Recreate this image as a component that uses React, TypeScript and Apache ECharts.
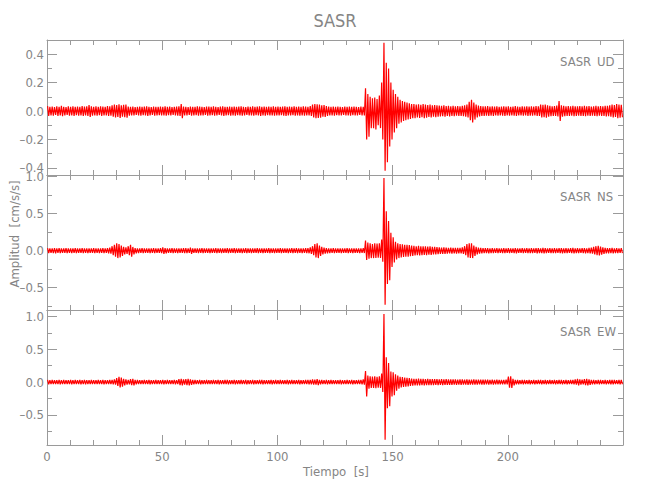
import React, { useEffect, useRef } from 'react';
import * as echarts from 'echarts';

// Envelope of each trace, one value per second (t = 0 .. 249 s).
// Upper envelope (positive peak per second):
const udUpper = [
  0.035, 0.03, 0.032, 0.028, 0.034, 0.03, 0.036, 0.03, 0.028, 0.033,
  0.03, 0.034, 0.029, 0.032, 0.03, 0.035, 0.031, 0.034, 0.042, 0.033,
  0.03, 0.033, 0.029, 0.034, 0.031, 0.03, 0.035, 0.033, 0.04, 0.045,
  0.042, 0.048, 0.04, 0.044, 0.046, 0.032, 0.03, 0.031, 0.028, 0.03,
  0.032, 0.029, 0.031, 0.034, 0.03, 0.028, 0.032, 0.03, 0.029, 0.031,
  0.03, 0.033, 0.029, 0.031, 0.028, 0.03, 0.032, 0.034, 0.05, 0.031,
  0.03, 0.028, 0.032, 0.03, 0.029, 0.033, 0.031, 0.03, 0.028, 0.032,
  0.031, 0.029, 0.033, 0.03, 0.028, 0.031, 0.034, 0.03, 0.029, 0.032,
  0.03, 0.032, 0.029, 0.031, 0.033, 0.03, 0.028, 0.031, 0.03, 0.033,
  0.029, 0.031, 0.034, 0.03, 0.032, 0.029, 0.031, 0.03, 0.033, 0.03,
  0.031, 0.029, 0.032, 0.034, 0.03, 0.031, 0.029, 0.033, 0.03, 0.032,
  0.03, 0.033, 0.031, 0.03, 0.035, 0.045, 0.05, 0.048, 0.046, 0.04,
  0.042, 0.035, 0.031, 0.03, 0.032, 0.029, 0.031, 0.03, 0.028, 0.031,
  0.03, 0.032, 0.029, 0.031, 0.03, 0.028, 0.031, 0.03, 0.16, 0.12,
  0.1, 0.09, 0.095, 0.085, 0.11, 0.2, 0.48, 0.34, 0.3, 0.2,
  0.15, 0.12, 0.1, 0.08, 0.07, 0.065, 0.06, 0.055, 0.05, 0.05,
  0.045, 0.048, 0.044, 0.05, 0.046, 0.042, 0.045, 0.04, 0.043, 0.04,
  0.038, 0.036, 0.04, 0.035, 0.037, 0.034, 0.036, 0.033, 0.035, 0.034,
  0.036, 0.04, 0.045, 0.065, 0.08, 0.06, 0.045, 0.038, 0.035, 0.034,
  0.033, 0.035, 0.032, 0.034, 0.031, 0.033, 0.03, 0.032, 0.034, 0.031,
  0.033, 0.03, 0.032, 0.035, 0.031, 0.03, 0.033, 0.031, 0.034, 0.032,
  0.033, 0.031, 0.035, 0.034, 0.045, 0.044, 0.046, 0.04, 0.036, 0.034,
  0.035, 0.038, 0.07, 0.04, 0.036, 0.034, 0.035, 0.033, 0.036, 0.034,
  0.033, 0.035, 0.034, 0.036, 0.033, 0.035, 0.032, 0.034, 0.036, 0.033,
  0.035, 0.034, 0.037, 0.036, 0.04, 0.045, 0.042, 0.05, 0.046, 0.044,
];
const nsUpper = [
  0.034, 0.03, 0.032, 0.035, 0.03, 0.033, 0.029, 0.031, 0.034, 0.03,
  0.032, 0.03, 0.034, 0.029, 0.031, 0.033, 0.03, 0.032, 0.029, 0.031,
  0.033, 0.03, 0.032, 0.031, 0.034, 0.03, 0.035, 0.04, 0.06, 0.08,
  0.1, 0.09, 0.07, 0.05, 0.045, 0.06, 0.08, 0.05, 0.035, 0.032,
  0.03, 0.033, 0.031, 0.029, 0.032, 0.03, 0.034, 0.031, 0.03, 0.033,
  0.045, 0.035, 0.031, 0.03, 0.033, 0.029, 0.032, 0.03, 0.031, 0.034,
  0.033, 0.03, 0.042, 0.031, 0.029, 0.032, 0.03, 0.033, 0.031, 0.03,
  0.032, 0.029, 0.031, 0.034, 0.03, 0.032, 0.029, 0.031, 0.033, 0.03,
  0.031, 0.033, 0.03, 0.029, 0.032, 0.031, 0.034, 0.03, 0.032, 0.029,
  0.031, 0.033, 0.03, 0.032, 0.029, 0.031, 0.034, 0.03, 0.032, 0.031,
  0.03, 0.033, 0.031, 0.029, 0.032, 0.03, 0.034, 0.031, 0.033, 0.03,
  0.032, 0.03, 0.033, 0.035, 0.045, 0.06, 0.09, 0.1, 0.07, 0.05,
  0.04, 0.035, 0.032, 0.03, 0.033, 0.031, 0.029, 0.032, 0.03, 0.031,
  0.033, 0.03, 0.032, 0.031, 0.029, 0.032, 0.03, 0.033, 0.135, 0.11,
  0.1, 0.09, 0.1, 0.095, 0.1, 0.15, 0.98, 0.53, 0.4, 0.24,
  0.18, 0.12, 0.1, 0.09, 0.085, 0.08, 0.08, 0.075, 0.07, 0.065,
  0.06, 0.065, 0.06, 0.058, 0.06, 0.055, 0.058, 0.052, 0.05, 0.048,
  0.045, 0.042, 0.044, 0.04, 0.038, 0.04, 0.037, 0.039, 0.036, 0.038,
  0.045, 0.06, 0.09, 0.1, 0.1, 0.07, 0.05, 0.04, 0.036, 0.034,
  0.033, 0.035, 0.032, 0.034, 0.031, 0.033, 0.03, 0.032, 0.034, 0.031,
  0.033, 0.03, 0.032, 0.035, 0.031, 0.03, 0.033, 0.031, 0.034, 0.032,
  0.033, 0.031, 0.035, 0.034, 0.032, 0.036, 0.033, 0.031, 0.034, 0.032,
  0.034, 0.031, 0.033, 0.035, 0.032, 0.034, 0.031, 0.033, 0.036, 0.032,
  0.034, 0.031, 0.033, 0.035, 0.032, 0.036, 0.04, 0.05, 0.06, 0.065,
  0.055, 0.045, 0.038, 0.035, 0.033, 0.036, 0.032, 0.034, 0.031, 0.033,
];
const ewUpper = [
  0.034, 0.03, 0.032, 0.029, 0.031, 0.033, 0.03, 0.032, 0.029, 0.031,
  0.033, 0.03, 0.032, 0.031, 0.034, 0.03, 0.033, 0.031, 0.03, 0.032,
  0.031, 0.029, 0.032, 0.03, 0.033, 0.031, 0.03, 0.032, 0.034, 0.04,
  0.06, 0.08, 0.07, 0.05, 0.04, 0.035, 0.045, 0.05, 0.035, 0.032,
  0.031, 0.029, 0.032, 0.03, 0.033, 0.031, 0.03, 0.032, 0.029, 0.031,
  0.033, 0.03, 0.032, 0.031, 0.029, 0.033, 0.03, 0.045, 0.05, 0.04,
  0.045, 0.05, 0.042, 0.035, 0.032, 0.03, 0.033, 0.031, 0.03, 0.032,
  0.031, 0.029, 0.032, 0.03, 0.033, 0.031, 0.03, 0.032, 0.034, 0.031,
  0.03, 0.033, 0.031, 0.029, 0.032, 0.03, 0.034, 0.031, 0.03, 0.033,
  0.031, 0.03, 0.032, 0.034, 0.03, 0.031, 0.029, 0.033, 0.03, 0.032,
  0.03, 0.032, 0.029, 0.031, 0.033, 0.03, 0.032, 0.031, 0.029, 0.033,
  0.031, 0.03, 0.032, 0.034, 0.035, 0.04, 0.038, 0.045, 0.035, 0.032,
  0.031, 0.033, 0.03, 0.032, 0.029, 0.031, 0.03, 0.033, 0.031, 0.03,
  0.032, 0.03, 0.033, 0.031, 0.029, 0.032, 0.034, 0.04, 0.17, 0.1,
  0.09, 0.085, 0.09, 0.08, 0.09, 0.13, 1.04, 0.38, 0.29, 0.16,
  0.15, 0.12, 0.1, 0.08, 0.075, 0.07, 0.065, 0.06, 0.055, 0.05,
  0.05, 0.052, 0.048, 0.05, 0.046, 0.048, 0.045, 0.047, 0.044, 0.046,
  0.043, 0.045, 0.042, 0.044, 0.041, 0.043, 0.04, 0.042, 0.039, 0.041,
  0.04, 0.038, 0.041, 0.039, 0.037, 0.04, 0.038, 0.036, 0.039, 0.037,
  0.036, 0.038, 0.035, 0.037, 0.034, 0.036, 0.033, 0.035, 0.034, 0.036,
  0.085, 0.09, 0.05, 0.035, 0.033, 0.031, 0.034, 0.032, 0.03, 0.033,
  0.031, 0.033, 0.03, 0.032, 0.034, 0.031, 0.033, 0.03, 0.032, 0.031,
  0.033, 0.03, 0.032, 0.034, 0.031, 0.033, 0.03, 0.032, 0.035, 0.04,
  0.05, 0.04, 0.036, 0.045, 0.05, 0.042, 0.035, 0.033, 0.031, 0.034,
  0.032, 0.03, 0.034, 0.031, 0.033, 0.035, 0.032, 0.03, 0.034, 0.033,
];

// Lower envelope (magnitude of negative peak) where it differs from the upper one: t = 136 .. 165 s
const EVENT_START = 136;
const udLowerEvent = [
  0.03, 0.031, 0.2, 0.18, 0.12, 0.12, 0.13, 0.1, 0.12, 0.2,
  0.42, 0.36, 0.25, 0.2, 0.15, 0.12, 0.09, 0.08, 0.07, 0.065,
  0.06, 0.055, 0.05, 0.05, 0.045, 0.048, 0.044, 0.05, 0.046, 0.042,
];
const nsLowerEvent = [
  0.03, 0.032, 0.125, 0.11, 0.1, 0.1, 0.1, 0.095, 0.1, 0.15,
  0.73, 0.45, 0.4, 0.22, 0.16, 0.12, 0.1, 0.09, 0.085, 0.08,
  0.08, 0.075, 0.07, 0.065, 0.06, 0.065, 0.06, 0.058, 0.06, 0.055,
];
const ewLowerEvent = [
  0.034, 0.04, 0.22, 0.1, 0.09, 0.09, 0.095, 0.085, 0.09, 0.15,
  0.88, 0.4, 0.37, 0.22, 0.2, 0.13, 0.1, 0.08, 0.075, 0.07,
  0.065, 0.06, 0.055, 0.05, 0.05, 0.052, 0.048, 0.05, 0.046, 0.048,
];

const components = ['UD', 'NS', 'EW'];
const station = 'SASR';
const yMin = [-0.45, -0.8, -0.96];
const yMax = [0.5, 1.02, 1.1];
const yMajor = [
  [-0.4, -0.2, 0, 0.2, 0.4],
  [-0.5, 0, 0.5, 1.0],
  [-0.5, 0, 0.5, 1.0],
];
const yMinor = [
  [-0.3, -0.1, 0.1, 0.3],
  [-0.75, -0.25, 0.25, 0.75],
  [-0.75, -0.25, 0.25, 0.75],
];
const xMin = 0;
const xMax = 250;
const xStep = 50;
const xLabels = [0, 50, 100, 150, 200];

const uppers = [udUpper, nsUpper, ewUpper];
const lowers = [udLowerEvent, nsLowerEvent, ewLowerEvent];

function trace(upper: number[], lowerEvent: number[]) {
  const pts: number[][] = [];
  for (let i = 0; i < upper.length; i++) {
    const j = i - EVENT_START;
    const lo = j >= 0 && j < lowerEvent.length ? lowerEvent[j] : upper[i];
    pts.push([i + 0.25, upper[i]], [i + 0.75, -lo]);
  }
  return pts;
}

const FONT = "'Liberation Sans Narrow', 'DejaVu Sans Condensed', 'Liberation Sans', sans-serif";
const AXIS = '#9a9a9a';
const TEXT = '#858585';

function fmt(v: number) {
  const s = Math.abs(v) < 1e-9 ? '0.0' : v.toFixed(1);
  return s.replace('-', '\u2013');
}

export default function App() {
  const ref = useRef<HTMLDivElement>(null);
  useEffect(() => {
    if (!ref.current) return;
    const chart = echarts.init(ref.current, null, { renderer: 'svg' });
    const tops = [40, 175, 310];
    const grid = tops.map((t) => ({ left: 47, top: t, width: 576, height: 135, show: false }));
    const xAxis: any[] = [];
    const yAxis: any[] = [];
    const series: any[] = [];
    for (let i = 0; i < 3; i++) {
      for (const pos of ['bottom', 'top']) {
        xAxis.push({
          gridIndex: i,
          type: 'value',
          position: pos,
          min: xMin,
          max: xMax,
          interval: xStep,
          axisLine: { show: true, onZero: false, lineStyle: { color: AXIS, width: 1 } },
          axisTick: { show: true, inside: true, length: 10, lineStyle: { color: AXIS } },
          minorTick: { show: true, splitNumber: 5, length: 5, lineStyle: { color: AXIS } },
          splitLine: { show: false },
          minorSplitLine: { show: false },
          axisLabel: {
            show: i === 2 && pos === 'bottom',
            customValues: xLabels,
            margin: 5,
            color: TEXT,
            fontSize: 13,
            fontFamily: FONT,
          },
        });
      }
      for (const pos of ['left', 'right']) {
        yAxis.push({
          gridIndex: i,
          type: 'value',
          position: pos,
          min: yMin[i],
          max: yMax[i],
          axisLine: { show: true, onZero: false, lineStyle: { color: AXIS, width: 1 } },
          axisTick: { show: true, inside: true, length: 10, customValues: yMajor[i], lineStyle: { color: AXIS } },
          splitLine: { show: false },
          axisLabel: {
            show: pos === 'left',
            customValues: yMajor[i],
            formatter: (v: number) => fmt(v),
            margin: 3,
            color: TEXT,
            fontSize: 13,
            fontFamily: FONT,
          },
        });
        yAxis.push({
          gridIndex: i,
          type: 'value',
          position: pos,
          min: yMin[i],
          max: yMax[i],
          axisLine: { show: false, onZero: false },
          axisTick: { show: true, inside: true, length: 5, customValues: yMinor[i], lineStyle: { color: AXIS } },
          splitLine: { show: false },
          axisLabel: { show: false },
        });
      }
      series.push({
        type: 'line',
        xAxisIndex: i * 2,
        yAxisIndex: i * 4,
        data: trace(uppers[i], lowers[i]),
        showSymbol: false,
        symbol: 'none',
        silent: true,
        clip: true,
        lineStyle: { color: '#ff0000', width: 1.2 },
      });
    }
    const graphic: any[] = [
      {
        type: 'text',
        x: 335,
        y: 20,
        style: { text: station, fill: TEXT, font: `18px ${FONT}`, textAlign: 'center', textVerticalAlign: 'middle', align: 'center', verticalAlign: 'middle' },
      },
      {
        type: 'text',
        x: 14,
        y: 234,
        rotation: Math.PI / 2,
        style: { text: 'Amplitud  [cm/s/s]', fill: TEXT, font: `13px ${FONT}`, textAlign: 'center', textVerticalAlign: 'middle', align: 'center', verticalAlign: 'middle' },
      },
      {
        type: 'text',
        x: 336,
        y: 471,
        style: { text: 'Tiempo  [s]', fill: TEXT, font: `13px ${FONT}`, textAlign: 'center', textVerticalAlign: 'middle', align: 'center', verticalAlign: 'middle' },
      },
    ];
    const labelY = [61, 196, 331];
    for (let i = 0; i < 3; i++) {
      graphic.push({
        type: 'text',
        x: 560,
        y: labelY[i],
        style: { text: station, fill: TEXT, font: `13px ${FONT}`, textAlign: 'left', textVerticalAlign: 'middle', align: 'left', verticalAlign: 'middle' },
      });
      graphic.push({
        type: 'text',
        x: 597,
        y: labelY[i],
        style: { text: components[i], fill: TEXT, font: `13px ${FONT}`, textAlign: 'left', textVerticalAlign: 'middle', align: 'left', verticalAlign: 'middle' },
      });
    }
    chart.setOption({
      animation: false,
      backgroundColor: '#ffffff',
      grid,
      xAxis,
      yAxis,
      series,
      graphic,
    });
    return () => chart.dispose();
  }, []);
  return <div ref={ref} style={{ position: 'fixed', left: 0, top: 0, width: 650, height: 500 }} />;
}
